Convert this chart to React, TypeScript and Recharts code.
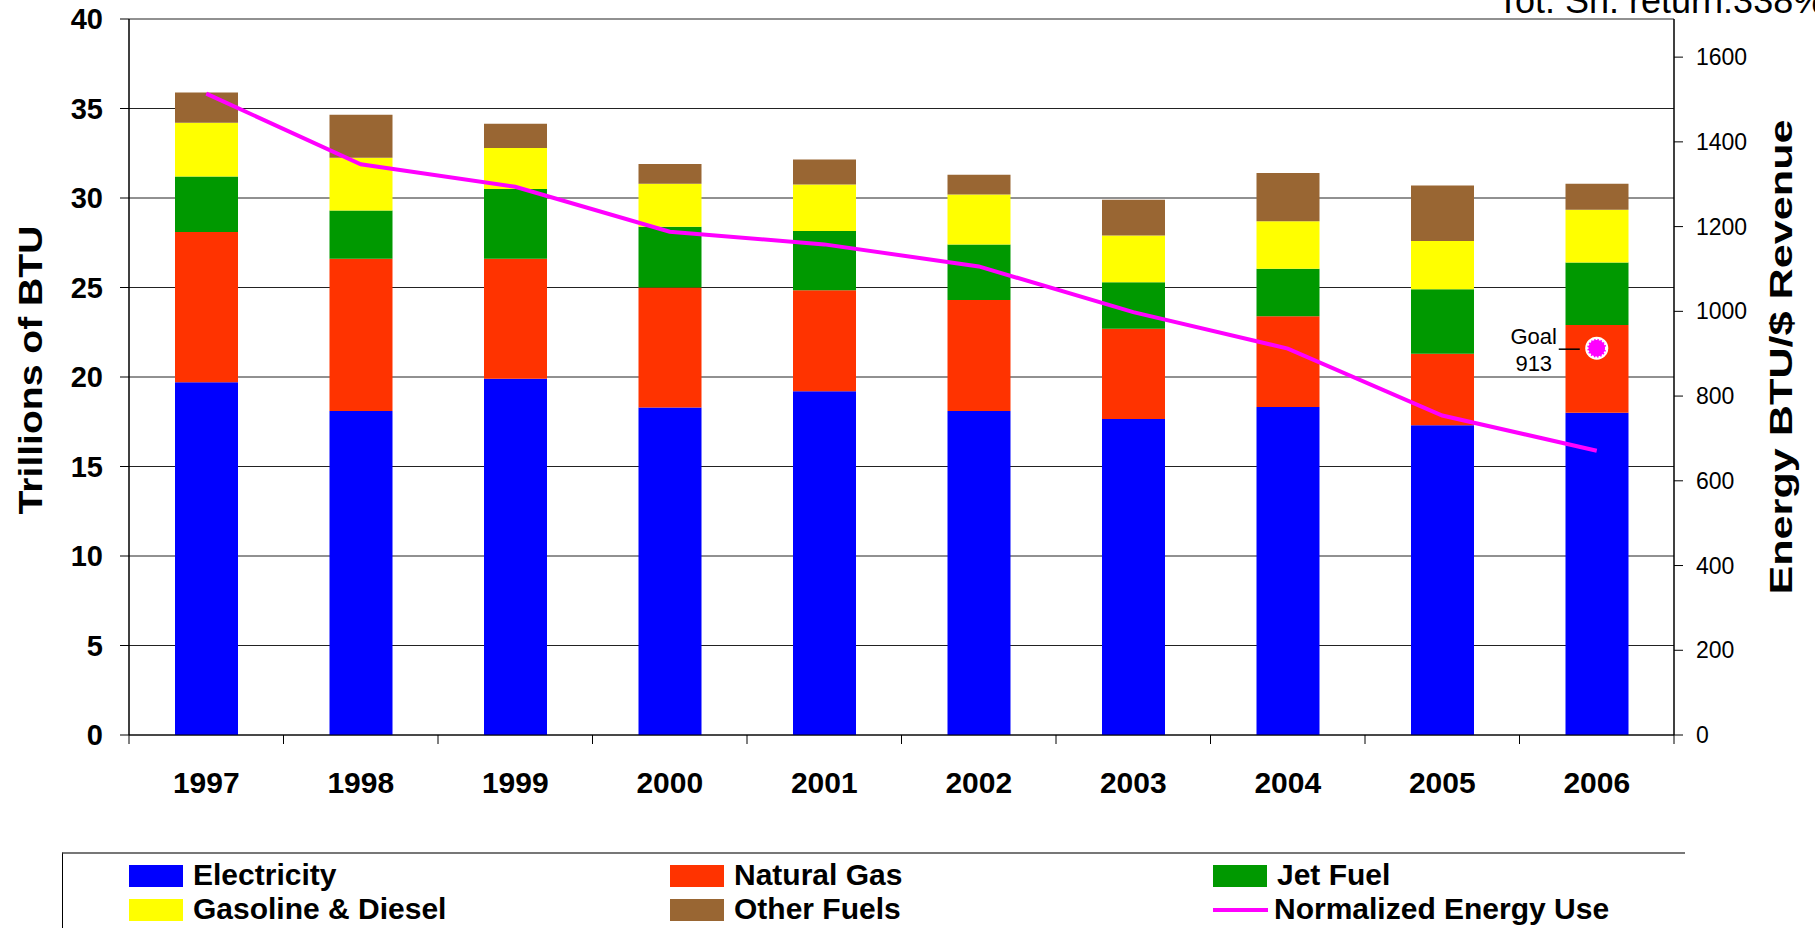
import React from "react";
import { ComposedChart, Bar, Line, XAxis, YAxis, CartesianGrid } from "recharts";

const years = ["1997", "1998", "1999", "2000", "2001", "2002", "2003", "2004", "2005", "2006"];
const electricity = [19.7, 18.1, 19.9, 18.3, 19.2, 18.1, 17.66, 18.33, 17.3, 18.0];
const naturalGas = [8.4, 8.5, 6.7, 6.7, 5.65, 6.2, 5.04, 5.07, 4.0, 4.9];
const jetFuel = [3.1, 2.7, 3.9, 3.4, 3.3, 3.1, 2.6, 2.65, 3.6, 3.5];
const gasolineDiesel = [3.0, 2.95, 2.3, 2.4, 2.6, 2.8, 2.6, 2.65, 2.7, 2.95];
const otherFuels = [1.7, 2.4, 1.35, 1.1, 1.4, 1.1, 2.0, 2.7, 3.1, 1.45];
const normalizedEnergyUse = [1514, 1347, 1294, 1188, 1158, 1106, 998, 912, 754, 671];
const goal = [null, null, null, null, null, null, null, null, null, 913];

const leftTicks = [0, 5, 10, 15, 20, 25, 30, 35, 40];
const rightTicks = [0, 200, 400, 600, 800, 1000, 1200, 1400, 1600];

const seriesNames = ["Electricity", "Natural Gas", "Jet Fuel", "Gasoline & Diesel", "Other Fuels", "Normalized Energy Use"];
const seriesColors = ["#0000FF", "#FF3300", "#009900", "#FFFF00", "#996633", "#FF00FF"];

const data = years.map((y, i) => ({
  year: y,
  electricity: electricity[i],
  naturalGas: naturalGas[i],
  jetFuel: jetFuel[i],
  gasolineDiesel: gasolineDiesel[i],
  otherFuels: otherFuels[i],
  normalized: normalizedEnergyUse[i],
  goal: goal[i],
}));

const FONT = "'Liberation Sans', Arial, sans-serif";
const PLOT_LEFT = 129;
const PLOT_RIGHT = 1674;
const BAND = (PLOT_RIGHT - PLOT_LEFT) / years.length;

const XTick = (props: any) => {
  const { x, y, payload, index } = props;
  const last = index === years.length - 1;
  return (
    <g>
      <text x={x} y={y + 58} textAnchor="middle" fontFamily={FONT} fontWeight="bold" fontSize={30} fill="#000">
        {payload.value}
      </text>
      <line x1={x - BAND / 2} x2={x - BAND / 2} y1={y} y2={y + 9} stroke="#000" strokeWidth={1} />
      {last && <line x1={x + BAND / 2} x2={x + BAND / 2} y1={y} y2={y + 9} stroke="#000" strokeWidth={1} />}
    </g>
  );
};

const GoalDot = (props: any) => {
  const { cx, cy, payload } = props;
  if (payload == null || payload.goal == null || cx == null || cy == null) return <g />;
  return (
    <g>
      <text x={cx - 63} y={cy - 4} textAnchor="middle" fontFamily={FONT} fontSize={22} fill="#000">Goal</text>
      <text x={cx - 63} y={cy + 23} textAnchor="middle" fontFamily={FONT} fontSize={22} fill="#000">{payload.goal}</text>
      <line x1={cx - 38} x2={cx - 17} y1={cy + 1} y2={cy + 1} stroke="#000" strokeWidth={1.5} />
      <circle cx={cx} cy={cy} r={11.5} fill="#FFFFFF" />
      <circle cx={cx} cy={cy} r={9.5} fill="#FF00FF" stroke="#FFFFFF" strokeWidth={2.5} strokeDasharray="2 1.6" />
    </g>
  );
};

const LeftLabel = () => (
  <text
    transform="translate(30,370) rotate(-90) scale(1.15,1)"
    textAnchor="middle"
    dominantBaseline="central"
    fontFamily={FONT}
    fontWeight="bold"
    fontSize={34}
    fill="#000"
  >
    Trillions of BTU
  </text>
);

const RightLabel = () => (
  <g>
    <text
      transform="translate(1781,357) rotate(-90) scale(1.35,1)"
      textAnchor="middle"
      dominantBaseline="central"
      fontFamily={FONT}
      fontWeight="bold"
      fontSize={32}
      fill="#000"
    >
      Energy BTU/$ Revenue
    </text>
    <text x={1497} y={13} fontFamily={FONT} fontSize={36} fill="#000">
      Tot. Sh. return:338%
    </text>
  </g>
);

const legendPos = [
  { left: 129, top: 865 },
  { left: 670, top: 865 },
  { left: 1213, top: 865 },
  { left: 129, top: 899 },
  { left: 670, top: 899 },
  { left: 1213, top: 899 },
];

export default function App() {
  return (
    <div style={{ position: "absolute", left: 0, top: 0, width: 1815, height: 928, overflow: "hidden", background: "#fff" }}>
      <ComposedChart
        width={1815}
        height={928}
        data={data}
        margin={{ top: 19, right: 0, bottom: 0, left: 0 }}
        barSize={63}
      >
        <CartesianGrid vertical={false} stroke="#222" strokeWidth={1} yAxisId="left" />
        <XAxis
          dataKey="year"
          height={193}
          tickSize={0}
          tickMargin={0}
          tickLine={false}
          axisLine={{ stroke: "#000", strokeWidth: 1 }}
          tick={<XTick />}
          interval={0}
        />
        <YAxis
          yAxisId="left"
          orientation="left"
          width={129}
          domain={[0, 40]}
          ticks={leftTicks}
          tickSize={9}
          tickMargin={17}
          axisLine={{ stroke: "#000", strokeWidth: 1.5 }}
          tickLine={{ stroke: "#000" }}
          tick={{ fontFamily: FONT, fontWeight: "bold", fontSize: 29, fill: "#000" }}
          label={{ content: () => <LeftLabel /> }}
        />
        <YAxis
          yAxisId="right"
          orientation="right"
          width={141}
          domain={[0, 1690]}
          ticks={rightTicks}
          tickSize={9}
          tickMargin={13}
          axisLine={{ stroke: "#000", strokeWidth: 1.5 }}
          tickLine={{ stroke: "#000" }}
          tick={{ fontFamily: FONT, fontSize: 23, fill: "#000", textAnchor: "start" }}
          label={{ content: () => <RightLabel /> }}
        />
        <Bar yAxisId="left" dataKey="electricity" stackId="a" fill={seriesColors[0]} isAnimationActive={false} />
        <Bar yAxisId="left" dataKey="naturalGas" stackId="a" fill={seriesColors[1]} isAnimationActive={false} />
        <Bar yAxisId="left" dataKey="jetFuel" stackId="a" fill={seriesColors[2]} isAnimationActive={false} />
        <Bar yAxisId="left" dataKey="gasolineDiesel" stackId="a" fill={seriesColors[3]} isAnimationActive={false} />
        <Bar yAxisId="left" dataKey="otherFuels" stackId="a" fill={seriesColors[4]} isAnimationActive={false} />
        <Line
          yAxisId="right"
          type="linear"
          dataKey="normalized"
          stroke={seriesColors[5]}
          strokeWidth={4}
          dot={false}
          isAnimationActive={false}
        />
        <Line
          yAxisId="right"
          type="linear"
          dataKey="goal"
          stroke="none"
          dot={<GoalDot />}
          activeDot={false}
          isAnimationActive={false}
        />
      </ComposedChart>
      <div
        style={{
          position: "absolute",
          left: 62,
          top: 852,
          width: 1623,
          height: 100,
          borderTop: "2px solid #777",
          borderLeft: "1px solid #000",
          boxSizing: "border-box",
        }}
      />
      {seriesNames.map((name, i) => {
        const p = legendPos[i];
        const isLine = i === 5;
        return (
          <div key={name} style={{ position: "absolute", left: p.left, top: p.top, height: 22 }}>
            {isLine ? (
              <div style={{ position: "absolute", left: 0, top: 9, width: 55, height: 4, background: seriesColors[i] }} />
            ) : (
              <div style={{ position: "absolute", left: 0, top: 0, width: 54, height: 22, background: seriesColors[i] }} />
            )}
            <div
              style={{
                position: "absolute",
                left: isLine ? 61 : 64,
                top: -7,
                whiteSpace: "nowrap",
                fontFamily: FONT,
                fontWeight: "bold",
                fontSize: 30,
                lineHeight: "34px",
                color: "#000",
              }}
            >
              {name}
            </div>
          </div>
        );
      })}
    </div>
  );
}
